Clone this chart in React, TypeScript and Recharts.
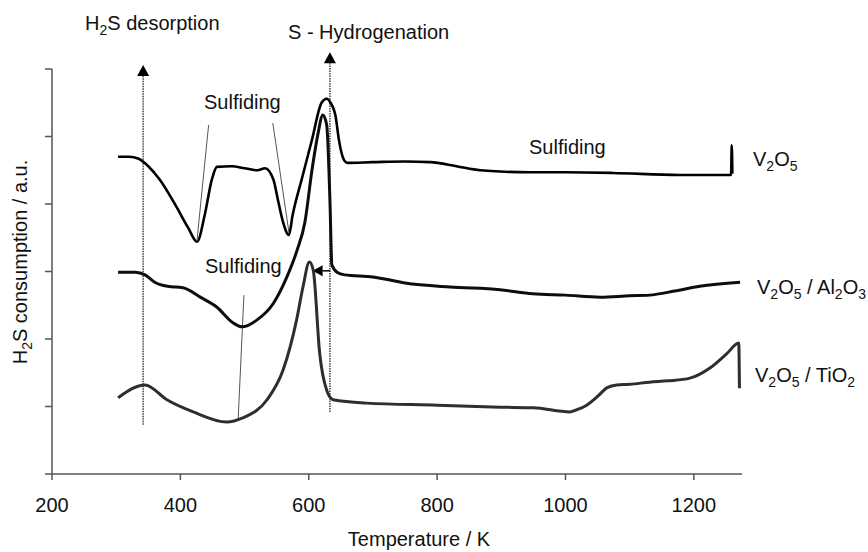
import React from "react";
import {
  LineChart,
  Line,
  XAxis,
  YAxis,
  ReferenceLine,
} from "recharts";

// temperatures (K) and signal (a.u.)
const v2o5T = [303, 320, 335, 350, 368, 392, 412, 426, 438, 449, 457, 480, 500, 520, 532, 545, 552, 560, 569, 575, 590, 605, 620, 628, 634, 642, 647, 655, 660, 700, 750, 789, 830, 867, 945, 1000, 1074, 1178, 1258, 1259, 1260];
const v2o5V = [4.7, 4.7, 4.67, 4.56, 4.36, 3.99, 3.65, 3.44, 3.84, 4.36, 4.55, 4.56, 4.53, 4.5, 4.53, 4.36, 4.06, 3.73, 3.54, 3.84, 4.4, 4.95, 5.5, 5.56, 5.5, 5.29, 4.95, 4.65, 4.61, 4.62, 4.63, 4.62, 4.56, 4.5, 4.47, 4.47, 4.46, 4.43, 4.43, 4.87, 4.45];

const alT = [303, 330, 345, 360, 380, 404, 431, 457, 482, 496, 519, 545, 566, 582, 594, 605, 614, 622, 628, 633, 636, 644, 656, 700, 750, 820, 898, 949, 1000, 1054, 1100, 1131, 1170, 1209, 1272];
const alV = [2.99, 2.99, 2.95, 2.84, 2.78, 2.76, 2.62, 2.47, 2.24, 2.18, 2.28, 2.53, 2.92, 3.32, 3.73, 4.5, 5.02, 5.32, 5.17, 4.06, 3.1, 2.99, 2.95, 2.92, 2.83, 2.77, 2.73, 2.67, 2.65, 2.62, 2.64, 2.65, 2.71, 2.78, 2.84];

const tiT = [303, 345, 379, 420, 472, 497, 535, 560, 581, 591, 601, 607, 617, 628, 638, 690, 800, 898, 950, 1007, 1020, 1033, 1050, 1065, 1080, 1100, 1131, 1160, 1194, 1225, 1251, 1270, 1271];
const tiV = [1.13, 1.32, 1.1, 0.92, 0.77, 0.83, 1.1, 1.54, 2.28, 2.77, 3.14, 3.02, 1.79, 1.24, 1.1, 1.05, 1.02, 0.99, 0.98, 0.92, 0.96, 1.02, 1.15, 1.28, 1.32, 1.33, 1.36, 1.38, 1.42, 1.57, 1.78, 1.94, 1.27];

const xTicks = [200, 400, 600, 800, 1000, 1200];
const yTicks = [0, 1, 2, 3, 4, 5, 6];

const toRows = (t: number[], v: number[]) => t.map((k, i) => ({ k, v: v[i] }));

const FONT = "'Liberation Sans', Arial, Helvetica, sans-serif";

// digits become subscripts (H2S, V2O5 ...)
const chem = (s: string) => {
  const runs = s.match(/\d+|\D+/g) || [];
  let down = false;
  return runs.map((r, i) => {
    if (/\d/.test(r)) {
      down = true;
      return (
        <tspan key={i} fontSize={14} dy={5}>
          {r}
        </tspan>
      );
    }
    const dy = down ? -5 : 0;
    down = false;
    return (
      <tspan key={i} dy={dy}>
        {r}
      </tspan>
    );
  });
};

const arrow =
  (color: string, width: number, dash: string | undefined, head: number) =>
  (p: any) => {
    const { x1, y1, x2, y2 } = p;
    const dx = x2 - x1;
    const dy = y2 - y1;
    const len = Math.sqrt(dx * dx + dy * dy) || 1;
    const ux = dx / len;
    const uy = dy / len;
    const bx = x2 - ux * head;
    const by = y2 - uy * head;
    const hw = head * 0.55;
    return (
      <g>
        <line x1={x1} y1={y1} x2={bx} y2={by} stroke={color} strokeWidth={width} strokeDasharray={dash} />
        <polygon
          points={`${x2},${y2} ${bx - uy * hw},${by + ux * hw} ${bx + uy * hw},${by - ux * hw}`}
          fill="#000"
        />
      </g>
    );
  };

const thin = (p: any) => (
  <line x1={p.x1} y1={p.y1} x2={p.x2} y2={p.y2} stroke="#555" strokeWidth={1} />
);

export default function App() {
  return (
    <div style={{ position: "absolute", left: 0, top: 0, width: 868, height: 552, background: "#fff" }}>
      <LineChart width={868} height={552} margin={{ top: 69, right: 126, bottom: 38, left: 0 }}>
        <XAxis
          dataKey="k"
          type="number"
          domain={[200, 1275]}
          ticks={xTicks}
          height={40}
          allowDataOverflow
          stroke="#555"
          strokeWidth={1.5}
          tickSize={6}
          tickMargin={18}
          tick={{ fill: "#111", fontSize: 20, fontFamily: FONT }}
        />
        <YAxis
          type="number"
          domain={[0, 6]}
          ticks={yTicks}
          width={52}
          stroke="#555"
          strokeWidth={1.5}
          tickSize={7}
          tickFormatter={() => ""}
        />
        <ReferenceLine segment={[{ x: 342, y: 0.73 }, { x: 342, y: 6.06 }]} ifOverflow="visible" shape={arrow("#444", 1.5, "1.5 1", 11)} />
        <ReferenceLine segment={[{ x: 633, y: 0.92 }, { x: 633, y: 6.25 }]} ifOverflow="visible" shape={arrow("#444", 1.5, "1.5 1", 11)} />
        <ReferenceLine segment={[{ x: 444, y: 5.17 }, { x: 426, y: 3.47 }]} ifOverflow="visible" shape={thin} />
        <ReferenceLine segment={[{ x: 544, y: 5.2 }, { x: 569, y: 3.59 }]} ifOverflow="visible" shape={thin} />
        <ReferenceLine segment={[{ x: 499, y: 2.65 }, { x: 490, y: 0.8 }]} ifOverflow="visible" shape={thin} />
        <ReferenceLine segment={[{ x: 633, y: 3.01 }, { x: 606, y: 3.01 }]} ifOverflow="visible" shape={arrow("#000", 1.5, undefined, 10)} />
        <Line data={toRows(v2o5T, v2o5V)} dataKey="v" type="monotone" stroke="#000" strokeWidth={2.6} dot={false} isAnimationActive={false} />
        <Line data={toRows(alT, alV)} dataKey="v" type="monotone" stroke="#0d0d0d" strokeWidth={3} dot={false} isAnimationActive={false} />
        <Line data={toRows(tiT, tiV)} dataKey="v" type="monotone" stroke="#2e2e2e" strokeWidth={3} dot={false} isAnimationActive={false} />
      </LineChart>
      <svg
        width={868}
        height={552}
        style={{ position: "absolute", left: 0, top: 0, pointerEvents: "none" }}
        fontFamily={FONT}
        fontSize={20}
        fill="#111"
      >
        <text x={85} y={30}>{chem("H2S desorption")}</text>
        <text x={288} y={39}>S - Hydrogenation</text>
        <text x={204} y={109}>Sulfiding</text>
        <text x={205} y={273}>Sulfiding</text>
        <text x={529} y={154}>Sulfiding</text>
        <text x={753} y={166}>{chem("V2O5")}</text>
        <text x={757} y={294}>{chem("V2O5 / Al2O3")}</text>
        <text x={755} y={382}>{chem("V2O5 / TiO2")}</text>
        <text x={419} y={546} textAnchor="middle">Temperature / K</text>
        <text transform="rotate(-90)" x={-262} y={27} textAnchor="middle">
          {chem("H2S consumption / a.u.")}
        </text>
      </svg>
    </div>
  );
}
